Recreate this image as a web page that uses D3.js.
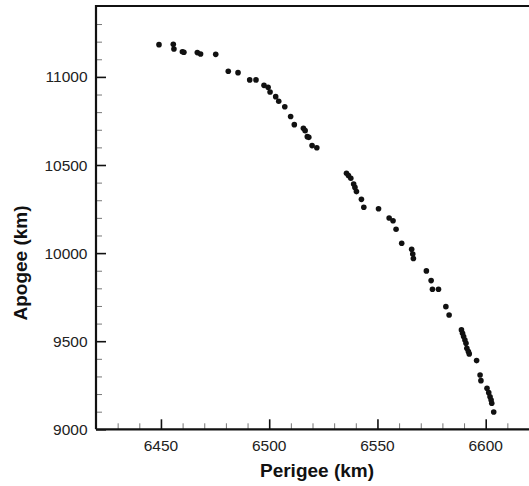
<!DOCTYPE html>
<html>
<head>
<meta charset="utf-8">
<script src="https://cdn.jsdelivr.net/npm/d3@7/dist/d3.min.js"></script>
<style>
  html, body { margin: 0; padding: 0; background: #fff; }
  svg { display: block; }
</style>
</head>
<body>
<svg id="chart" width="529" height="486"></svg>
<script>
const perigee = [6449.1, 6455.7, 6456.0, 6459.9, 6460.6, 6466.8, 6468.3, 6475.3, 6481.1, 6485.6,
  6491.0, 6493.9, 6497.6, 6499.5, 6500.4, 6503.0, 6504.4, 6507.2, 6509.9, 6511.6,
  6515.8, 6516.6, 6517.6, 6518.3, 6519.8, 6522.0,
  6535.7, 6536.6, 6537.7, 6539.0, 6539.6, 6540.3, 6542.6, 6543.7, 6550.5, 6555.4,
  6557.2, 6558.6, 6561.2, 6565.8, 6566.3, 6566.6, 6572.6, 6574.8, 6575.4, 6578.2,
  6581.6, 6583.1, 6588.8, 6589.3, 6589.8, 6590.4, 6590.9, 6591.3, 6592.0, 6592.4,
  6595.8, 6597.4, 6597.8, 6600.6, 6601.4, 6602.0, 6602.5, 6602.8, 6603.7];
const apogee = [11183, 11185, 11158, 11143, 11140, 11138, 11130, 11128, 11032, 11024,
  10983, 10983, 10952, 10941, 10914, 10888, 10862, 10831, 10775, 10729,
  10708, 10695, 10661, 10657, 10610, 10598,
  10453, 10440, 10425, 10392, 10373, 10349, 10305, 10260, 10252, 10199,
  10184, 10135, 10056, 10022, 9995, 9969, 9899, 9844, 9795, 9795,
  9696, 9649, 9564, 9545, 9526, 9507, 9488, 9460, 9441, 9428,
  9390, 9308, 9276, 9233, 9208, 9185, 9166, 9148, 9098];
const xMajorTicks = [6450, 6500, 6550, 6600];
const yMajorTicks = [9000, 9500, 10000, 10500, 11000];
const xTitle = "Perigee (km)";
const yTitle = "Apogee (km)";

const padL = 96, padT = 6, padB = 429.3;
const x = d3.scaleLinear().domain([6420, 6630]).range([padL, padL + 210 * 2.165]);
const y = d3.scaleLinear().domain([9000, 11400]).range([padB, padB - 2400 * 0.1762]);

const svg = d3.select("#chart");
const font = "'Liberation Sans', Arial, Helvetica, sans-serif";

// points
svg.append("g").selectAll("circle")
  .data(perigee.map((p, i) => [p, apogee[i]]))
  .join("circle")
  .attr("cx", d => x(d[0]))
  .attr("cy", d => y(d[1]))
  .attr("r", 2.8)
  .attr("fill", "#111");

// minor ticks
const xMinor = d3.range(6430, 6631, 10).filter(v => !xMajorTicks.includes(v));
const yMinor = d3.range(9100, 11400, 100).filter(v => !yMajorTicks.includes(v));

const xAxisMinor = d3.axisTop(x).tickValues(xMinor).tickSize(6).tickFormat("");
const xAxisMajor = d3.axisTop(x).tickValues(xMajorTicks).tickSize(10).tickFormat("");
const yAxisMinor = d3.axisRight(y).tickValues(yMinor).tickSize(6).tickFormat("");
const yAxisMajor = d3.axisRight(y).tickValues(yMajorTicks).tickSize(10).tickFormat("");

function styleAxis(g, color, w) {
  g.select(".domain").remove();
  g.selectAll("line").attr("stroke", color).attr("stroke-width", w);
}
svg.append("g").attr("transform", `translate(0,${padB})`).call(xAxisMinor).call(g => styleAxis(g, "#777", 1));
svg.append("g").attr("transform", `translate(0,${padB})`).call(xAxisMajor).call(g => styleAxis(g, "#111", 1.6));
svg.append("g").attr("transform", `translate(${padL},0)`).call(yAxisMinor).call(g => styleAxis(g, "#777", 1));
svg.append("g").attr("transform", `translate(${padL},0)`).call(yAxisMajor).call(g => styleAxis(g, "#111", 1.6));

// tick labels
svg.append("g").selectAll("text").data(xMajorTicks).join("text")
  .attr("x", d => x(d)).attr("y", 450.5)
  .attr("text-anchor", "middle")
  .attr("font-family", font).attr("font-size", 15.5).attr("fill", "#222")
  .text(d => d);
svg.append("g").selectAll("text").data(yMajorTicks).join("text")
  .attr("x", 87.5).attr("y", d => y(d)).attr("dy", "0.36em")
  .attr("text-anchor", "end")
  .attr("font-family", font).attr("font-size", 15.5).attr("fill", "#222")
  .text(d => d);

// frame
svg.append("path")
  .attr("d", `M${padL},${padB} L${padL},${padT} L540,${padT} M${padL},${padB} L540,${padB}`)
  .attr("fill", "none").attr("stroke", "#111").attr("stroke-width", 2.2);

// titles
svg.append("text")
  .attr("x", 317).attr("y", 477)
  .attr("text-anchor", "middle")
  .attr("font-family", font).attr("font-weight", "bold").attr("font-size", 19).attr("fill", "#111")
  .text(xTitle);
svg.append("text")
  .attr("transform", "translate(27,263) rotate(-90)")
  .attr("text-anchor", "middle")
  .attr("font-family", font).attr("font-weight", "bold").attr("font-size", 19).attr("fill", "#111")
  .text(yTitle);
</script>
</body>
</html>
